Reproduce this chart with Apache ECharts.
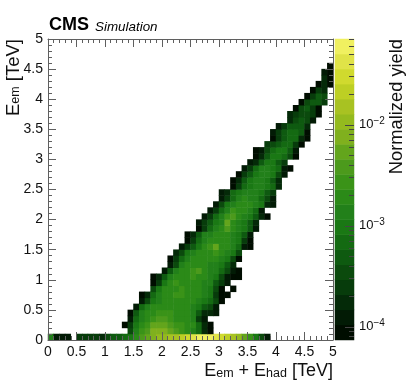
<!DOCTYPE html>
<html>
<head>
<meta charset="utf-8">
<title>Eem vs Eem + Ehad</title>
<style>
  html, body { margin: 0; padding: 0; background: #fff; }
  #chart { width: 407px; height: 391px; }
</style>
</head>
<body>
<div id="chart"></div>
<script src="https://cdn.jsdelivr.net/npm/echarts@6/dist/echarts.min.js"></script>
<script>
// 50 x 50 bins, 0.1 TeV wide
const binCount = 50
const binLabels = Array.from({ length: binCount }, (_, i) => i)

// first filled x bin of each row, row 0 is Eem = 0..0.1 TeV
const rowStart = [0, 14, 13, 14, 14, 15, 16, 16, 18, 18, 18, 20, 21, 21, 22, 23, 24, 24, 26, 26, 27, 28, 29, 30, 30, 32, 32, 33, 34, 35, 36, 36, 38, 39, 39, 40, 42, 42, 43, 44, 45, 46, 47, 48, 48, 49]

const rowLogYield = [
  [-2.9, -3.9, -3.9, -3.9, null, -3.6, -3.6, -3.6, -3.6, -3.8, -3.5, -3.3, -3.3, -3.2, -3, -2.7, -2.4, -2.3, -2.1, -2, -2, -1.8, -1.8, -1.7, -1.5, -1.4, -1.2, -1.2, -1.2, -1.4, -1.5, -1.7, -1.8, -2, -2.3, -2.6, -3, -3.5, -3.9],
  [-3.5, -2.9, -2.6, -2.4, -2.1, -2.1, -2.1, -2.3, -2.4, -2.6, -2.7, -2.9, -3.2, -3.8, -4.1],
  [-4.1, -3.6, -3, -2.7, -2.6, -2.3, -2.3, -2.3, -2.4, -2.6, -2.6, -2.7, -2.7, -3.2, -3.8, -4.1],
  [-3.9, -3.2, -2.9, -2.7, -2.6, -2.4, -2.4, -2.6, -2.7, -2.7, -2.7, -2.9, -3.6, -3.9],
  [-4.1, -3.3, -2.9, -2.7, -2.7, -2.6, -2.6, -2.6, -2.7, -2.7, -2.7, -2.9, -3.3, -3.8, -3.8, -3.9],
  [-3.9, -3.2, -2.9, -2.7, -2.7, -2.7, -2.7, -2.7, -2.7, -2.7, -2.9, -3, -3.3, -3.5, -3.9],
  [-3.9, -3.5, -3, -2.9, -2.7, -2.7, -2.7, -2.7, -2.7, -2.7, -2.9, -3, -3.2, -3.5, -4.1],
  [-4.1, -3.8, -3.2, -2.9, -2.7, -2.7, -2.6, -2.6, -2.7, -2.7, -2.7, -2.9, -3, -3.6, -4.1, -4.1],
  [-3.5, -3, -2.7, -2.7, -2.7, -2.6, -2.7, -2.7, -2.7, -2.9, -3, -3.5, -4.1, null, -4.1],
  [-4.1, -3.6, -3, -2.7, -2.6, -2.7, -2.7, -2.7, -2.7, -2.9, -2.9, -3.3, -3.6, -3.9],
  [-4.1, -3.8, -3.3, -2.9, -2.7, -2.7, -2.7, -2.6, -2.7, -2.7, -2.9, -3, -3.5, -3.9, -4.1, -4.1],
  [-3.9, -3.3, -2.9, -2.7, -2.7, -2.6, -2.4, -2.7, -2.9, -2.9, -3.2, -3.5, -3.9, -4.1],
  [-3.9, -3.5, -2.9, -2.7, -2.7, -2.7, -2.7, -2.9, -2.9, -3, -3.3, -3.8],
  [-4.1, -3.6, -3.2, -2.9, -2.7, -2.7, -2.7, -2.7, -2.7, -2.9, -3, -3.5, -4.1],
  [-3.8, -3.5, -3, -2.9, -2.7, -2.7, -2.7, -2.6, -2.7, -2.9, -3, -3.5],
  [-3.9, -3.6, -3.3, -3, -2.7, -2.6, -2.3, -2.7, -2.7, -2.9, -3.2, -3.9, -4.1],
  [-4.1, -3.6, -3.2, -2.9, -2.7, -2.7, -2.7, -2.7, -2.9, -3, -3.6, -4.1],
  [-4.1, -3.8, -3.3, -2.9, -2.9, -2.7, -2.7, -2.7, -2.9, -3, -3.3, -3.9],
  [-4.1, -3.6, -3.2, -2.9, -2.7, -2.4, -2.7, -2.9, -3, -3.3, -3.9],
  [-3.9, -3.6, -3.3, -3, -2.9, -2.3, -2.7, -2.9, -3, -3.3, -3.8],
  [-3.9, -3.6, -3.2, -2.9, -2.6, -2.4, -2.7, -2.9, -3, -3.3, -3.8, -4.1],
  [-3.9, -3.6, -3.2, -2.9, -2.6, -2.7, -2.7, -2.9, -3.2, -3.9],
  [-3.9, -3.5, -3, -2.9, -2.7, -2.7, -2.7, -2.9, -3, -3.8, -3.9],
  [-3.9, -3.6, -3.2, -2.9, -2.7, -2.9, -2.9, -3.2, -3.5, -3.9],
  [-3.9, -3.8, -3.2, -3, -2.9, -2.9, -2.9, -3, -3.3, -3.6],
  [-4.1, -3.6, -3.2, -3, -2.9, -2.9, -3, -3.2, -3.8],
  [-4.1, -3.8, -3.3, -3, -2.9, -2.9, -3, -3.3, -3.8],
  [-4.1, -3.6, -3.3, -3, -2.9, -2.9, -3, -3.5, -3.9],
  [-3.9, -3.6, -3.2, -2.9, -2.9, -3, -3.2, -3.9, -4.1],
  [-3.9, -3.8, -3.3, -3, -3, -3.3, -3.6],
  [-4.1, -3.8, -3.3, -3, -3, -3.2, -3.5, -4.1],
  [-4.1, -3.9, -3.5, -3.2, -3, -3, -3.3, -3.9],
  [-3.6, -3.5, -3.3, -3.2, -3.2, -3.6, -4.1],
  [-4.1, -3.6, -3.3, -3.2, -3.2, -3.8, -4.1],
  [-3.9, -3.6, -3.3, -3.2, -3.2, -3.3, -4.1],
  [-3.9, -3.6, -3.3, -3.3, -3.3, -3.8],
  [-3.8, -3.5, -3.3, -3.5, -3.9],
  [-3.8, -3.6, -3.5, -3.5, -3.6, -4.1],
  [-4.1, -3.5, -3.3, -3.6, -4.1],
  [-4.1, -3.5, -3.3, -3.3, -3.6],
  [-4.1, -3.6, -3.3, -3.5],
  [-4.1, -3.6, -3.8],
  [-4.1, -3.8, -4.1],
  [-3.8, -4.1],
  [-3.9, -4.1],
  [-4.1]
]

// colour scale: 20 bands, bottom to top
const bandEdges = [-4.13, -3.98, -3.83, -3.68, -3.53, -3.385, -3.236, -3.087, -2.938, -2.789, -2.64, -2.49, -2.34, -2.19, -2.04, -1.895, -1.746, -1.597, -1.448, -1.299, -1.15]
const bandColors = ['#000d00', '#021b05', '#042a08', '#073c0b', '#0b4a0d', '#0e5a10', '#146a12', '#1a7814', '#22801a', '#2b8a18', '#3a9318', '#4c9a1c', '#63a51c', '#80b01e', '#94ba1e', '#a8c222', '#bdcf24', '#d0da2e', '#e0e348', '#f0f060']

const decadeTicks = [-4, -3, -2]
const subDecadeFactors = [2, 3, 4, 5, 6, 7, 8, 9]

const cells = []
rowLogYield.forEach((row, r) => {
  row.forEach((v, i) => {
    if (v !== null) cells.push([rowStart[r] + i, r, v])
  })
})

const bandIndex = bandColors.map((_, i) => i)
const bandCells = bandIndex.map(i => [0, i, (bandEdges[i] + bandEdges[i + 1]) / 2])

const minorLogTicks = []
;[-5, -4, -3, -2].forEach(k => {
  subDecadeFactors.forEach(f => {
    const v = k + Math.log10(f)
    if (v > bandEdges[0] && v < bandEdges[20]) minorLogTicks.push(v)
  })
})

const frameColor = '#5f5f5f'
const fontName = '"Liberation Sans", Helvetica, Arial, sans-serif'

function energyAxis(position, showLabels) {
  return {
    type: 'value',
    position,
    min: 0,
    max: 5,
    interval: 0.5,
    z: 10,
    splitLine: { show: false },
    axisLine: { show: true, onZero: false, lineStyle: { color: frameColor, width: 1 } },
    axisTick: { show: true, inside: true, length: 8, lineStyle: { color: frameColor, width: 1 } },
    minorTick: { show: true, splitNumber: 5, length: 4, lineStyle: { color: frameColor, width: 1 } },
    axisLabel: { show: showLabels, color: '#111', fontFamily: fontName, fontSize: 14, margin: 5 }
  }
}

const chart = echarts.init(document.getElementById('chart'))
chart.setOption({
  animation: false,
  backgroundColor: '#fff',
  grid: [
    { left: 48, right: 74, top: 39, bottom: 51 },
    { left: 335, width: 19, top: 39, bottom: 51 }
  ],
  xAxis: [
    { type: 'category', gridIndex: 0, data: binLabels, show: false },
    Object.assign(energyAxis('bottom', true), { gridIndex: 0 }),
    Object.assign(energyAxis('top', false), { gridIndex: 0 }),
    { type: 'category', gridIndex: 1, data: [0], show: false }
  ],
  yAxis: [
    { type: 'category', gridIndex: 0, data: binLabels, show: false },
    Object.assign(energyAxis('left', true), { gridIndex: 0 }),
    Object.assign(energyAxis('right', false), { gridIndex: 0 }),
    { type: 'category', gridIndex: 1, data: bandIndex, show: false },
    {
      type: 'value',
      gridIndex: 1,
      position: 'right',
      min: bandEdges[0],
      max: bandEdges[20],
      z: 10,
      splitLine: { show: false },
      axisLine: { show: false },
      axisTick: { show: true, inside: true, length: 9, customValues: decadeTicks, lineStyle: { color: '#444', width: 1 } },
      axisLabel: {
        show: true,
        margin: 5,
        customValues: decadeTicks,
        formatter: v => '{b|10}{s|\u2212' + Math.abs(Math.round(v)) + '}',
        rich: {
          b: { fontFamily: fontName, fontSize: 13, color: '#111' },
          s: { fontFamily: fontName, fontSize: 10, color: '#111', padding: [0, 0, 8, 0] }
        }
      }
    },
    {
      type: 'value',
      gridIndex: 1,
      position: 'right',
      min: bandEdges[0],
      max: bandEdges[20],
      z: 10,
      splitLine: { show: false },
      axisLine: { show: false },
      axisLabel: { show: false },
      axisTick: { show: true, inside: true, length: 5, customValues: minorLogTicks, lineStyle: { color: '#444', width: 1 } }
    }
  ],
  visualMap: {
    type: 'piecewise',
    show: false,
    dimension: 2,
    seriesIndex: [0, 1],
    pieces: bandColors.map((color, i) => ({ min: bandEdges[i], max: bandEdges[i + 1], color }))
  },
  title: [
    { text: 'CMS', left: 49, top: 16, padding: 0, textStyle: { fontFamily: fontName, fontSize: 18, fontWeight: 'bold', color: '#000' } },
    { text: 'Simulation', left: 95, top: 21, padding: 0, textStyle: { fontFamily: fontName, fontSize: 13.4, fontStyle: 'italic', fontWeight: 'normal', color: '#000' } }
  ],
  graphic: [
    {
      type: 'text',
      x: 333,
      y: 380,
      style: {
        text: '{a|E}{s|em}{a| + E}{s|had}{a| [TeV]}',
        align: 'right',
        verticalAlign: 'bottom',
        rich: {
          a: { fontFamily: fontName, fontSize: 18, fill: '#111' },
          s: { fontFamily: fontName, fontSize: 12.5, fill: '#111', padding: [5, 0, 0, 0] }
        }
      }
    },
    {
      type: 'text',
      x: 4,
      y: 39,
      rotation: Math.PI / 2,
      style: {
        text: '{a|E}{s|em}{a| [TeV]}',
        align: 'right',
        verticalAlign: 'top',
        rich: {
          a: { fontFamily: fontName, fontSize: 18.5, fill: '#111' },
          s: { fontFamily: fontName, fontSize: 12.5, fill: '#111', padding: [5, 0, 0, 0] }
        }
      }
    },
    {
      type: 'text',
      x: 388,
      y: 39,
      rotation: Math.PI / 2,
      style: {
        text: 'Normalized yield',
        align: 'right',
        verticalAlign: 'top',
        fontFamily: fontName,
        fontSize: 18.3,
        fill: '#111'
      }
    }
  ],
  series: [
    {
      type: 'heatmap',
      xAxisIndex: 0,
      yAxisIndex: 0,
      data: cells,
      progressive: 0,
      itemStyle: { borderWidth: 0 },
      emphasis: { disabled: true }
    },
    {
      type: 'heatmap',
      xAxisIndex: 3,
      yAxisIndex: 3,
      data: bandCells,
      progressive: 0,
      itemStyle: { borderWidth: 0 },
      emphasis: { disabled: true }
    }
  ]
})
</script>
</body>
</html>
